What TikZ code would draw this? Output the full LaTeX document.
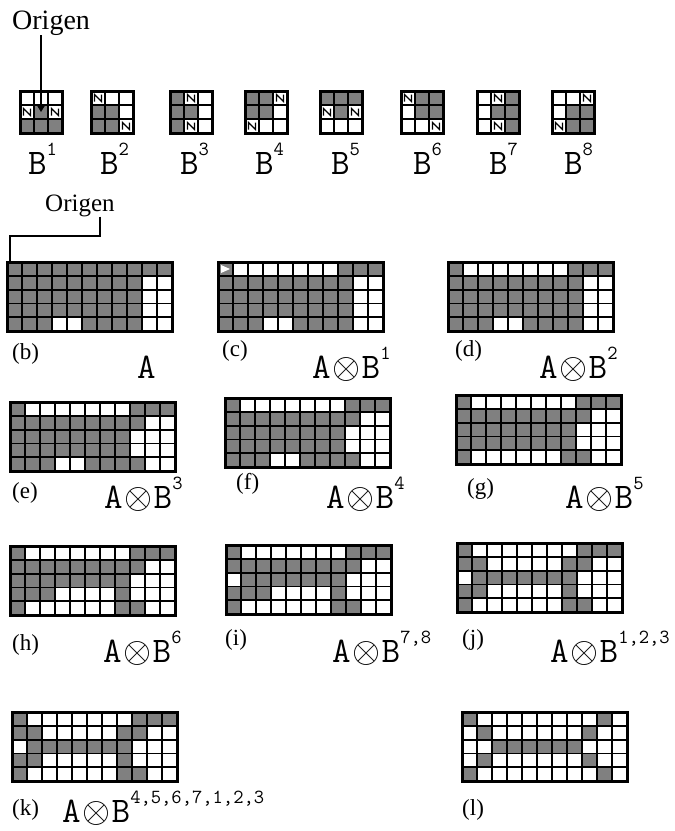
\documentclass[tikz,border=0pt]{standalone}
\usepackage{fix-cm}
\usepackage{fontspec}
\setmainfont{Liberation Serif}
\usepackage{tikz}
\usetikzlibrary{arrows.meta}

\newcommand{\cellw}{15}
\newcommand{\cellh}{13.8}
\newcommand{\mcell}{14}
\newcommand{\expo}[1]{\raisebox{19pt}{\fontsize{20}{20}\selectfont #1}}
\newcommand{\otim}{\hspace{1.5pt}\({\otimes}\)\hspace{1.5pt}}

% 11x5 result grid: name, x, y, rows of bits
\newcommand{\bitgrid}[4]{%
  \begin{scope}[shift={(#2,#3)}]
    \coordinate (#1) at (0,0);
    \foreach \bits [count=\rowno] in {#4} {
      \foreach \bitv [count=\colno] in \bits {
        \ifnum\bitv=1
          \fill[cellgray] ({(\colno-1)*\cellw},{(\rowno-1)*\cellh}) rectangle ++(\cellw,\cellh);
        \fi
      }
    }
    \foreach \colno in {1,...,10}
      \draw[cellline] ({\colno*\cellw},0) -- ++(0,{5*\cellh});
    \foreach \rowno in {1,...,4}
      \draw[cellline] (0,{\rowno*\cellh}) -- ++({11*\cellw},0);
    \draw[gridframe] (0,0) rectangle ({11*\cellw},{5*\cellh});
  \end{scope}
}

% 3x3 mask: 0 white, 1 gray, 2 don't care
\newcommand{\maskgrid}[4]{%
  \begin{scope}[shift={(#2,#3)}]
    \coordinate (#1) at (0,0);
    \foreach \bits [count=\rowno] in {#4} {
      \foreach \bitv [count=\colno] in \bits {
        \ifcase\bitv
        \or \fill[cellgray] ({(\colno-1)*\mcell},{(\rowno-1)*\mcell}) rectangle ++(\mcell,\mcell);
        \or \draw[dcmark] ({(\colno-1)*\mcell+3.5},{\rowno*\mcell-3.5}) -- ++(0,-7) -- ++(7,7) -- ++(0,-7);
        \fi
      }
    }
    \foreach \lineno in {1,2} {
      \draw[cellline] ({\lineno*\mcell},0) -- ++(0,{3*\mcell});
      \draw[cellline] (0,{\lineno*\mcell}) -- ++({3*\mcell},0);
    }
    \draw[gridframe] (0,0) rectangle ({3*\mcell},{3*\mcell});
  \end{scope}
}

\begin{document}
\begin{tikzpicture}[x=1pt, y=-1pt,
    cellgray/.style={fill=black!50},
    cellline/.style={line width=1.8pt},
    gridframe/.style={line width=3pt},
    dcmark/.style={line width=1.3pt},
    originline/.style={line width=1.6pt},
    tag/.style={font=\fontsize{23}{23}\selectfont, anchor=base west, inner sep=0pt},
    oplabel/.style={font=\ttfamily\fontsize{36}{36}\selectfont, anchor=base west, inner sep=0pt},
    origen/.style={font=\fontsize{28}{28}\selectfont, anchor=base west, inner sep=0pt}
]
\useasboundingbox (0,0) rectangle (675,831);

% Masks B1..B8
\maskgrid{b1}{20}{91}{{0,0,0},{2,1,2},{1,1,1}}
\maskgrid{b2}{91}{91}{{2,0,0},{1,1,0},{1,1,2}}
\maskgrid{b3}{170}{91}{{1,2,0},{1,1,0},{1,2,0}}
\maskgrid{b4}{245}{91}{{1,1,2},{1,1,0},{2,0,0}}
\maskgrid{b5}{320}{91}{{1,1,1},{2,1,2},{0,0,0}}
\maskgrid{b6}{401}{91}{{2,1,1},{0,1,1},{0,0,2}}
\maskgrid{b7}{477}{91}{{0,2,1},{0,1,1},{0,2,1}}
\maskgrid{b8}{552}{91}{{0,0,2},{0,1,1},{2,1,1}}

\node[oplabel] (nb1) at (28,174) {B\expo{1}};
\node[oplabel] (nb2) at (100,174) {B\expo{2}};
\node[oplabel] (nb3) at (180,174) {B\expo{3}};
\node[oplabel] (nb4) at (255,174) {B\expo{4}};
\node[oplabel] (nb5) at (331,174) {B\expo{5}};
\node[oplabel] (nb6) at (413,174) {B\expo{6}};
\node[oplabel] (nb7) at (489,174) {B\expo{7}};
\node[oplabel] (nb8) at (564,174) {B\expo{8}};

% Origins
\node[origen] (orig1) at (12,29) {Origen};
\coordinate (b1mid) at (41,112);
\draw[originline, -{Triangle[length=6pt,width=7pt]}] (orig1.south -| b1mid) -- (b1mid);

\node[origen, font=\fontsize{25}{25}\selectfont] (orig2) at (45,211) {Origen};
\coordinate (o2bend) at (100,236);
\coordinate (gbtip) at (10,262);
\draw[originline] (orig2.south -| o2bend) -- (o2bend) -| (gbtip);

% Row 1
\bitgrid{gb}{7}{262}{{1,1,1,1,1,1,1,1,1,1,1},{1,1,1,1,1,1,1,1,1,0,0},{1,1,1,1,1,1,1,1,1,0,0},{1,1,1,1,1,1,1,1,1,0,0},{1,1,1,0,0,1,1,1,1,0,0}}
\bitgrid{gc}{218}{262}{{1,0,0,0,0,0,0,0,1,1,1},{1,1,1,1,1,1,1,1,1,0,0},{1,1,1,1,1,1,1,1,1,0,0},{1,1,1,1,1,1,1,1,1,0,0},{1,1,1,0,0,1,1,1,1,0,0}}
\fill[white] (221,265) -- (230,269) -- (221,273) -- cycle;
\bitgrid{gd}{448}{262}{{1,0,0,0,0,0,0,0,1,1,1},{1,1,1,1,1,1,1,1,1,0,0},{1,1,1,1,1,1,1,1,1,0,0},{1,1,1,1,1,1,1,1,1,0,0},{1,1,1,0,0,1,1,1,1,0,0}}

\node[tag] (tb) at (12,359) {(b)};
\node[oplabel] (lb) at (137,378) {A};
\node[tag] (tc) at (222,356) {(c)};
\node[oplabel] (lc) at (312,378) {A\otim B\expo{1}};
\node[tag] (td) at (455,356) {(d)};
\node[oplabel] (ld) at (539,378) {A\otim B\expo{2}};

% Row 2
\bitgrid{ge}{10}{402}{{1,0,0,0,0,0,0,0,1,1,1},{1,1,1,1,1,1,1,1,1,0,0},{1,1,1,1,1,1,1,1,0,0,0},{1,1,1,1,1,1,1,1,0,0,0},{1,1,1,0,0,1,1,1,1,0,0}}
\bitgrid{gf}{225}{398}{{1,0,0,0,0,0,0,0,1,1,1},{1,1,1,1,1,1,1,1,1,0,0},{1,1,1,1,1,1,1,1,0,0,0},{1,1,1,1,1,1,1,1,0,0,0},{1,1,1,0,0,1,1,1,1,0,0}}
\bitgrid{gg}{456}{395}{{1,0,0,0,0,0,0,0,1,1,1},{1,1,1,1,1,1,1,1,1,0,0},{1,1,1,1,1,1,1,1,0,0,0},{1,1,1,1,1,1,1,1,0,0,0},{1,0,0,0,0,0,0,1,1,0,0}}

\node[tag] (te) at (12,498) {(e)};
\node[oplabel] (le) at (104,508) {A\otim B\expo{3}};
\node[tag] (tf) at (236,489) {(f)};
\node[oplabel] (lf) at (326,508) {A\otim B\expo{4}};
\node[tag] (tg) at (467,494) {(g)};
\node[oplabel] (lg) at (565,508) {A\otim B\expo{5}};

% Row 3
\bitgrid{gh}{10}{546}{{1,0,0,0,0,0,0,0,1,1,1},{1,1,1,1,1,1,1,1,1,0,0},{1,1,1,1,1,1,1,1,0,0,0},{1,1,1,0,0,0,0,1,0,0,0},{1,0,0,0,0,0,0,1,1,0,0}}
\bitgrid{gi}{226}{545}{{1,0,0,0,0,0,0,0,1,1,1},{1,1,1,1,1,1,1,1,1,0,0},{0,1,1,1,1,1,1,1,0,0,0},{1,1,1,0,0,0,0,1,0,0,0},{1,0,0,0,0,0,0,1,1,0,0}}
\bitgrid{gj}{457}{543}{{1,0,0,0,0,0,0,0,1,1,1},{1,1,0,0,0,0,0,1,1,0,0},{0,1,1,1,1,1,1,1,0,0,0},{1,1,0,0,0,0,0,1,0,0,0},{1,0,0,0,0,0,0,1,1,0,0}}

\node[tag] (th) at (12,650) {(h)};
\node[oplabel] (lh) at (103,662) {A\otim B\expo{6}};
\node[tag] (ti) at (225,645) {(i)};
\node[oplabel] (li) at (332,662) {A\otim B\expo{7,8}};
\node[tag] (tj) at (462,645) {(j)};
\node[oplabel] (lj) at (550,662) {A\otim B\expo{1,2,3}};

% Row 4
\bitgrid{gk}{12}{712}{{1,0,0,0,0,0,0,0,1,1,1},{1,1,0,0,0,0,0,1,1,0,0},{0,1,1,1,1,1,1,1,0,0,0},{1,1,0,0,0,0,0,1,0,0,0},{1,0,0,0,0,0,0,1,1,0,0}}
\bitgrid{gl}{462}{712}{{1,0,0,0,0,0,0,0,0,1,0},{0,1,0,0,0,0,0,0,1,0,0},{0,0,1,1,1,1,1,1,0,0,0},{0,1,0,0,0,0,0,0,1,0,0},{1,0,0,0,0,0,0,0,0,1,0}}

\node[tag] (tk) at (12,815) {(k)};
\node[oplabel] (lk) at (62,822) {A\otim B\expo{4,5,6,7,1,2,3}};
\node[tag] (tl) at (462,815) {(l)};
\end{tikzpicture}
\end{document}
